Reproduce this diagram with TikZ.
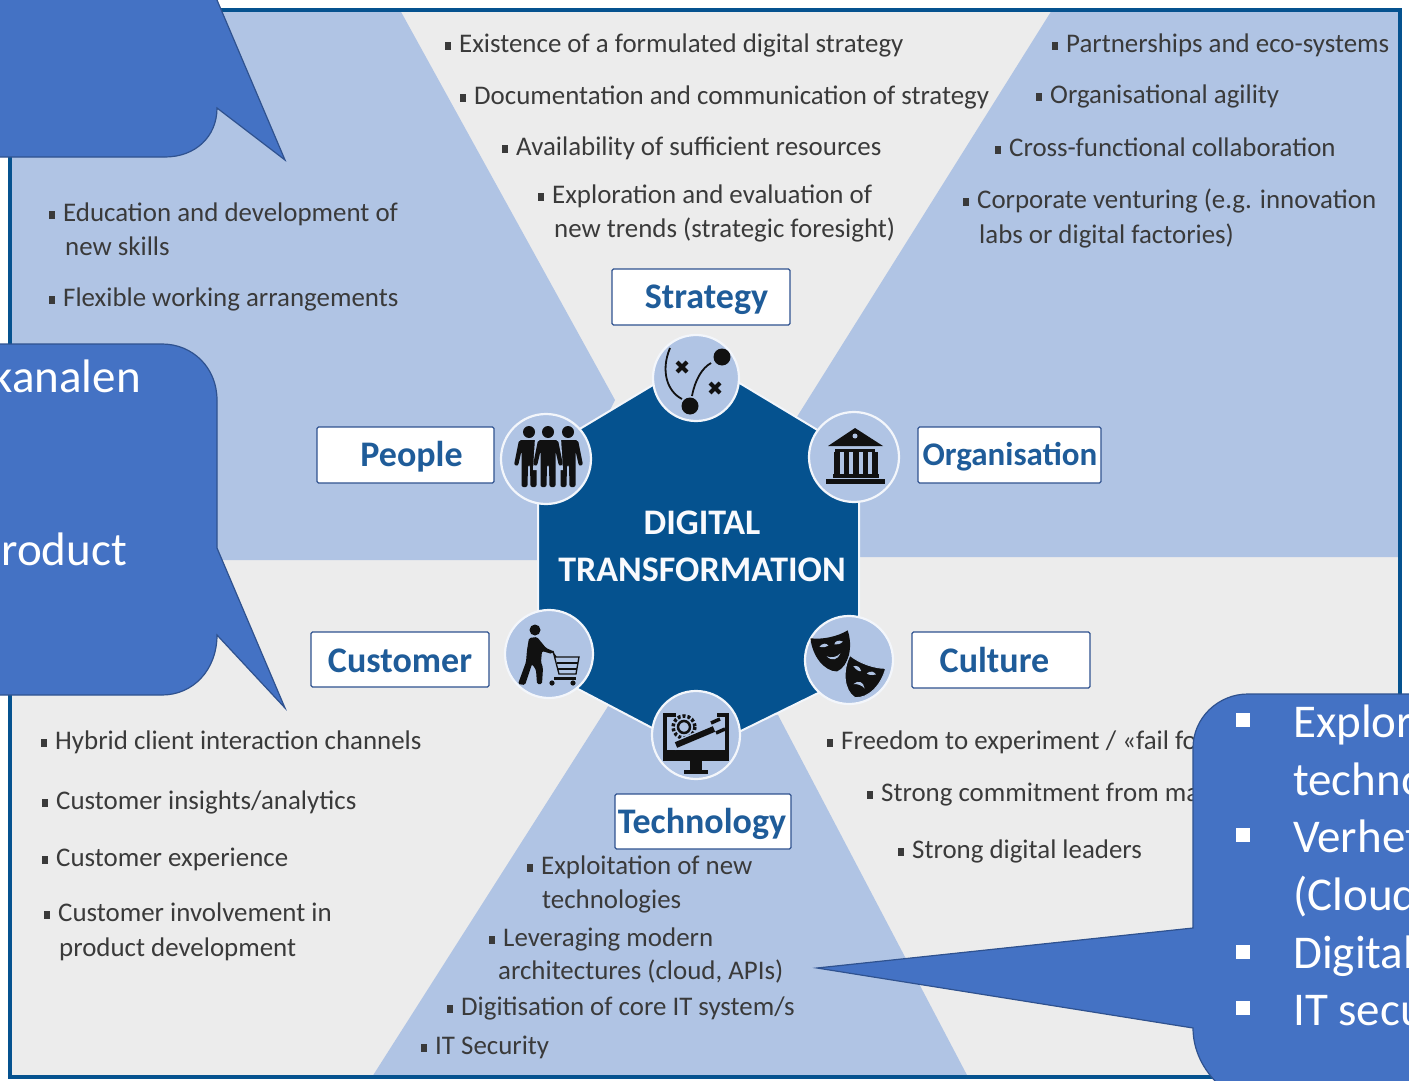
\documentclass[tikz,border=0pt]{standalone}
\usepackage{fontspec}
\setmainfont{Carlito}
\definecolor{bgg}{HTML}{ECECEC}
\definecolor{lbl}{HTML}{B0C4E4}
\definecolor{dbl}{HTML}{05528F}
\definecolor{call}{HTML}{4472C4}
\definecolor{callb}{HTML}{2F528F}
\definecolor{txt}{HTML}{3A3A3A}
\definecolor{lab}{HTML}{1F5C99}
\definecolor{ico}{HTML}{111111}
\newcommand\fsz[1]{\fontsize{#1}{#1}\selectfont}
\newcommand\bl[4]{%
  \fill[txt] (#2-14.5,#3-2) rectangle (#2-8,#3+6);
  \node[bodytxt] (#1) at (#2,#3+2.5) {#4};}
\newcommand\cont[4]{\node[bodytxt] (#1) at (#2,#3+2.5) {#4};}
\newcommand\wtxt[4]{\node[calltxt] (#1) at (#2,#3) {#4};}
\newcommand\figman[1]{%
  \fill[ico] (#1,432) circle (6);
  \fill[ico,rounded corners=2] (#1-10,440) -- (#1+10,440) -- (#1+15,465) -- (#1+11,466) -- (#1+7.5,451)
    -- (#1+7.5,487) -- (#1+1.5,487) -- (#1+1,465) -- (#1-1,465) -- (#1-1.5,487) -- (#1-7.5,487) -- (#1-7.5,451)
    -- (#1-11,466) -- (#1-15,465) -- cycle;}
\tikzset{
  bodytxt/.style={anchor=west,inner sep=0pt,text=txt,font=\fsz{26.9},text height=18pt,text depth=6pt},
  labbox/.style={draw=callb,fill=white,line width=1.2pt,rounded corners=1.5pt,minimum width=0pt,inner sep=0pt},
  labtxt/.style={text=lab,font=\fsz{36}\bfseries,inner sep=0pt,text height=24pt,text depth=8pt},
  calltxt/.style={anchor=west,inner sep=0pt,text=white,font=\fsz{47},text height=32pt,text depth=10pt},
  callshape/.style={fill=call,draw=callb,line width=1.2pt,line join=miter},
  ring/.style={fill=lbl,draw=white!85!lbl,line width=2.2pt},
  centxt/.style={text=white!92!lbl,font=\fsz{36}\bfseries,inner sep=0pt}
}
\begin{document}
\begin{tikzpicture}[x=1pt,y=-1pt]
\useasboundingbox (0,0) rectangle (1409,1081);
\fill[white] (0,0) rectangle (1409,1081);
% panel
\fill[bgg] (10,10) rectangle (1400,1077);
\fill[lbl] (10,10) -- (400,10) -- (615,400) -- (537,560) -- (10,560) -- cycle;
\fill[lbl] (1052,10) -- (1400,10) -- (1400,557) -- (860,557) -- (795,420) -- cycle;
\fill[lbl] (612,700) -- (372,1077) -- (968,1077) -- (778,715) -- cycle;
\draw[dbl,line width=3.5pt] (10,10) rectangle (1400,1077);
% hexagon
\fill[dbl,draw=white!85!lbl,line width=2pt] (698,358) -- (859,455) -- (859,673) -- (698,752) -- (538,668) -- (538,454) -- cycle;
\node[centxt] (dig) at (702,523) {DIGITAL};
\node[centxt] (trans) at (702,570) {TRANSFORMATION};
% rings
\filldraw[ring] (696,378) circle (43);
\filldraw[ring] (546,459) circle (45);
\filldraw[ring] (854,457) circle (45);
\filldraw[ring] (549,654) circle (44);
\filldraw[ring] (849,660) circle (44);
\filldraw[ring] (696,735) circle (44);
% strategy icon
\fill[ico] (722,357) circle (8.5);
\fill[ico] (690,406) circle (8.5);
\draw[ico,line width=1.8pt] (670,348) .. controls (660,372) and (668,392) .. (682,399);
\draw[ico,line width=1.8pt] (692,396) .. controls (695,380) and (702,368) .. (711,363);
\draw[ico,line width=4pt] (677,362) -- (687,372) (687,362) -- (677,372);
\draw[ico,line width=4pt] (710,383) -- (720,393) (720,383) -- (710,393);
% people icon
\figman{529}\figman{568}
\fill[lbl] (535,438) -- (561,438) -- (563,470) -- (533,470) -- cycle;
\figman{548}
% organisation icon
\fill[ico] (855,428) -- (883,446) -- (828,446) -- cycle;
\fill[lbl] (855,436) circle (2.5);
\fill[ico] (835,449) rectangle (875,452);
\foreach \cx in {837,846.5,856,865.5,875}{\fill[ico] (\cx-2.6,452) rectangle (\cx+2.6,475);}
\fill[ico] (833,474) rectangle (879,478);
\fill[ico] (826,479) rectangle (885,484);
% customer icon
\fill[ico] (535,630) circle (5.5);
\fill[ico,rounded corners=1.5] (529,638) -- (537,637) -- (546,648) -- (553,651) -- (552,654) -- (542,651) -- (541,662) -- (543,668)
  -- (542,684) -- (537,684) -- (536,670) -- (532,664) -- (525,685) -- (518,684) -- (526,662) -- (527,650) -- cycle;
\draw[ico,line width=1.3pt] (552,651) -- (556,657) -- (579,657) -- (576,674) -- (559,674) -- (553,651);
\draw[ico,line width=1.3pt] (557,663) -- (578,663) (558,669) -- (577,669);
\fill[ico] (554,680) rectangle (576,677);
\fill[ico] (552,683) circle (2.6) (573,683) circle (2.6);
% culture icon
\begin{scope}[shift={(832,648)},rotate=12]
\fill[ico] (-19,-14) .. controls (-8,-10) and (8,-10) .. (19,-14) .. controls (21,3) and (13,21) .. (0,24) .. controls (-13,21) and (-21,3) .. (-19,-14) -- cycle;
\fill[lbl] (-12,-4) .. controls (-8,-7) and (-4,-6) .. (-3,-3) .. controls (-6,-2) and (-9,-2) .. (-12,-4);
\fill[lbl] (12,-4) .. controls (8,-7) and (4,-6) .. (3,-3) .. controls (6,-2) and (9,-2) .. (12,-4);
\fill[lbl] (-7,7) .. controls (-3,13) and (3,13) .. (7,7) .. controls (3,10) and (-3,10) .. (-7,7);
\end{scope}
\begin{scope}[shift={(863,675)},rotate=-20]
\fill[ico,draw=lbl,line width=1pt] (-19,-14) .. controls (-8,-10) and (8,-10) .. (19,-14) .. controls (21,3) and (13,21) .. (0,24) .. controls (-13,21) and (-21,3) .. (-19,-14) -- cycle;
\fill[lbl] (-12,-5) .. controls (-8,-2) and (-4,-2) .. (-3,-3) .. controls (-6,-7) and (-9,-7) .. (-12,-5);
\fill[lbl] (12,-5) .. controls (8,-2) and (4,-2) .. (3,-3) .. controls (6,-7) and (9,-7) .. (12,-5);
\fill[lbl] (-6,12) .. controls (-3,6) and (3,6) .. (6,12) .. controls (3,10) and (-3,10) .. (-6,12);
\end{scope}
% technology icon
\draw[ico,line width=4pt] (676,715) -- (665,715) -- (665,756) -- (727,756) -- (727,715) -- (717,715);
\fill[ico] (663,750) rectangle (729,761);
\fill[ico] (690,761) rectangle (702,770);
\fill[ico] (684,770) rectangle (708,774);
\draw[ico,line width=3.5pt,dash pattern=on 3pt off 2pt] (684,727) circle (11);
\draw[ico,line width=2.5pt] (684,727) circle (6);
\draw[lbl,line width=9pt] (674,746) -- (716,728);
\draw[ico,line width=6pt] (676,745) -- (714,729);
\draw[ico,line width=3.5pt] (711,723) -- (720,719) (716,733) -- (725,729);
% boxes
\node[labbox,minimum width=178pt,minimum height=56pt] (sbox) at (701,297) {};
\node[labbox,minimum width=177pt,minimum height=56pt] (pbox) at (405.5,455) {};
\node[labbox,minimum width=183pt,minimum height=56pt] (obox) at (1009.5,455) {};
\node[labbox,minimum width=178pt,minimum height=55pt] (cbox) at (400,659.5) {};
\node[labbox,minimum width=178pt,minimum height=56pt] (ubox) at (1001,660) {};
\node[labbox,minimum width=176pt,minimum height=55pt] (tbox) at (703,821.5) {};
\node[labtxt] (stra) at (706.5,300) {Strategy};
\node[labtxt] (peop) at (411.5,458) {People};
\node[labtxt,font=\fsz{33}\bfseries] (orga) at (1010,457) {Organisation};
\node[labtxt] (cust) at (400,664) {Customer};
\node[labtxt] (cult) at (994.5,664) {Culture};
\node[labtxt] (tech) at (702,825) {Technology};
% body text
\bl{a1}{459}{44}{Existence of a formulated digital strategy}
\bl{a2}{474}{96}{Documentation and communication of strategy}
\bl{a3}{516}{147}{Availability of sufficient resources}
\bl{a4}{552}{195}{Exploration and evaluation of}
\cont{a5}{554}{229}{new trends (strategic foresight)}
\bl{b1}{1066}{44}{Partnerships and eco-systems}
\bl{b2}{1050}{95}{Organisational agility}
\bl{b3}{1009}{148}{Cross-functional collaboration}
\bl{b4}{977}{200}{Corporate venturing (e.g. innovation}
\cont{b5}{979}{235}{labs or digital factories)}
\bl{c1}{63}{213}{Education and development of}
\cont{c2}{65}{247}{new skills}
\bl{c3}{63}{298}{Flexible working arrangements}
\bl{d1}{55}{741}{Hybrid client interaction channels}
\bl{d2}{56}{801}{Customer insights/analytics}
\bl{d3}{56}{858}{Customer experience}
\bl{d4}{58}{913}{Customer involvement in}
\cont{d5}{59}{948}{product development}
\bl{e1}{541}{866}{Exploitation of new}
\cont{e2}{542}{900}{technologies}
\bl{e3}{503}{938}{Leveraging modern}
\cont{e4}{498}{971}{architectures (cloud, APIs)}
\bl{e5}{461}{1007}{Digitisation of core IT system/s}
\bl{e6}{435}{1046}{IT Security}
\bl{f1}{841}{741}{Freedom to experiment / «fail fo}
\bl{f2}{881}{793}{Strong commitment from ma}
\bl{f3}{912}{850}{Strong digital leaders}
% callouts
\filldraw[callshape] (-5,-5) -- (217,-5) -- (217,0) -- (285,160) -- (217,108)
  .. controls (217,137) and (195,157) .. (165,157) -- (-5,157) -- cycle;
\filldraw[callshape] (-5,344) -- (162,344) .. controls (193,344) and (217,368) .. (217,400)
  -- (217,548) -- (285,708) -- (217,635) .. controls (217,670) and (193,695) .. (162,695) -- (-5,695) -- cycle;
\filldraw[callshape] (1414,694) -- (1248,694) .. controls (1218,694) and (1193,718) .. (1193,748)
  -- (1193,928) -- (817,968) -- (1193,1028) .. controls (1193,1050) and (1203,1070) .. (1220,1086) -- (1414,1086) -- cycle;
% callout text
\node[calltxt,anchor=east] (k1) at (141,381) {kanalen};
\node[calltxt,anchor=east] (k2) at (127,554) {roduct};
\foreach \by in {720,835,952,1008}{\fill[white] (1236,\by-7) rectangle (1250,\by+7);}
\wtxt{r1}{1293}{726}{Explor}
\wtxt{r2}{1293}{784}{techno}
\wtxt{r3}{1293}{841}{Verhet}
\wtxt{r4}{1293}{899}{(Cloud}
\wtxt{r5}{1293}{957}{Digital}
\wtxt{r6}{1293}{1014}{IT secu}
\end{tikzpicture}
\end{document}
